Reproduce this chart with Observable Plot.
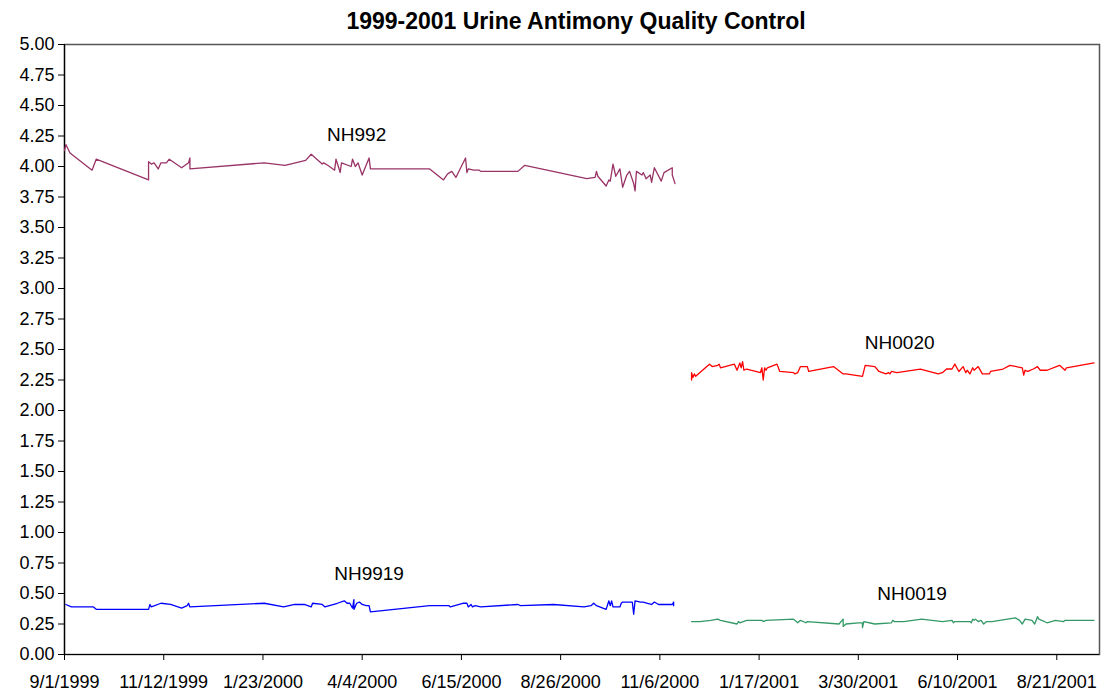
<!DOCTYPE html>
<html>
<head>
<meta charset="utf-8">
<script src="https://cdn.jsdelivr.net/npm/d3@7"></script>
<script src="https://cdn.jsdelivr.net/npm/@observablehq/plot@0.6"></script>
<style>
  html, body { margin: 0; padding: 0; background: #fff; }
  #chart { width: 1104px; height: 694px; }
</style>
</head>
<body>
<div id="chart"></div>
<script>
const TITLE = "1999-2001 Urine Antimony Quality Control";

// [date, value] pairs
const NH992 = [
  ["1999-09-01",4.13],["1999-09-02",4.18],["1999-09-05",4.11],["1999-09-21",3.97],["1999-09-24",4.06],
  ["1999-11-01",3.89],["1999-11-01",4.04],["1999-11-03",4.02],["1999-11-05",4.03],["1999-11-08",3.98],
  ["1999-11-10",4.03],["1999-11-14",4.03],["1999-11-16",4.06],["1999-11-25",3.99],["1999-11-30",4.03],
  ["1999-12-01",4.07],["1999-12-01",3.98],["2000-01-24",4.03],["2000-02-08",4.01],["2000-02-23",4.05],
  ["2000-02-27",4.10],["2000-03-06",4.02],["2000-03-07",4.03],["2000-03-10",4.01],["2000-03-15",3.97],
  ["2000-03-16",4.06],["2000-03-18",3.99],["2000-03-19",3.95],["2000-03-20",4.03],["2000-03-27",4.00],
  ["2000-03-28",4.06],["2000-03-30",4.00],["2000-04-01",4.03],["2000-04-04",3.93],["2000-04-09",4.07],
  ["2000-04-10",3.98],["2000-05-23",3.98],["2000-06-02",3.89],["2000-06-05",3.94],["2000-06-08",3.96],
  ["2000-06-11",3.91],["2000-06-18",4.07],["2000-06-19",3.95],["2000-06-20",3.98],["2000-06-24",3.97],
  ["2000-06-28",3.97],["2000-06-29",3.96],["2000-07-26",3.96],["2000-07-31",4.01],["2000-09-14",3.90],
  ["2000-09-20",3.91],["2000-09-21",3.96],["2000-09-22",3.92],["2000-09-28",3.84],["2000-09-30",3.89],
  ["2000-10-01",3.88],["2000-10-03",4.02],["2000-10-05",3.92],["2000-10-08",3.98],["2000-10-10",3.83],
  ["2000-10-13",3.93],["2000-10-15",3.96],["2000-10-18",3.86],["2000-10-19",3.80],["2000-10-20",3.96],
  ["2000-10-24",3.93],["2000-10-25",3.95],["2000-10-27",3.90],["2000-10-30",3.93],["2000-10-31",3.87],
  ["2000-11-02",3.99],["2000-11-07",3.88],["2000-11-09",3.95],["2000-11-15",3.99],["2000-11-15",3.93],
  ["2000-11-17",3.86]
];

const NH9919 = [
  ["1999-09-02",0.41],["1999-09-06",0.39],["1999-09-22",0.39],["1999-09-24",0.37],["1999-11-01",0.37],
  ["1999-11-02",0.41],["1999-11-03",0.39],["1999-11-10",0.42],["1999-11-17",0.41],["1999-11-25",0.38],
  ["1999-11-29",0.40],["1999-11-30",0.42],["1999-12-01",0.39],["2000-01-24",0.42],["2000-02-07",0.39],
  ["2000-02-15",0.41],["2000-02-22",0.41],["2000-02-27",0.39],["2000-02-28",0.42],["2000-03-06",0.41],
  ["2000-03-08",0.39],["2000-03-17",0.42],["2000-03-22",0.44],["2000-03-24",0.42],["2000-03-26",0.42],
  ["2000-03-28",0.38],["2000-03-29",0.45],["2000-03-29",0.37],["2000-03-31",0.42],["2000-04-02",0.43],
  ["2000-04-04",0.41],["2000-04-07",0.40],["2000-04-09",0.40],["2000-04-10",0.35],["2000-05-23",0.40],
  ["2000-06-06",0.40],["2000-06-07",0.39],["2000-06-16",0.42],["2000-06-19",0.42],["2000-06-20",0.39],
  ["2000-06-22",0.41],["2000-06-23",0.39],["2000-06-25",0.40],["2000-06-29",0.39],["2000-07-26",0.41],
  ["2000-07-28",0.40],["2000-08-21",0.41],["2000-09-12",0.39],["2000-09-17",0.40],["2000-09-19",0.42],
  ["2000-09-21",0.40],["2000-09-28",0.37],["2000-09-30",0.44],["2000-10-01",0.40],["2000-10-02",0.44],
  ["2000-10-03",0.39],["2000-10-08",0.39],["2000-10-09",0.42],["2000-10-10",0.43],["2000-10-17",0.43],
  ["2000-10-18",0.33],["2000-10-19",0.44],["2000-10-23",0.43],["2000-10-25",0.43],["2000-10-28",0.42],
  ["2000-10-31",0.41],["2000-11-02",0.43],["2000-11-05",0.41],["2000-11-08",0.41],["2000-11-15",0.41],
  ["2000-11-16",0.43],["2000-11-16",0.40]
];

const NH0020 = [
  ["2000-11-29",2.25],["2000-11-29",2.31],["2000-11-30",2.27],["2000-12-01",2.30],["2000-12-02",2.28],
  ["2000-12-08",2.34],["2000-12-12",2.38],["2000-12-14",2.36],["2000-12-18",2.37],["2000-12-19",2.38],
  ["2000-12-20",2.35],["2000-12-30",2.38],["2001-01-01",2.33],["2001-01-03",2.39],["2001-01-04",2.35],
  ["2001-01-05",2.40],["2001-01-06",2.33],["2001-01-08",2.34],["2001-01-11",2.33],["2001-01-18",2.31],
  ["2001-01-19",2.35],["2001-01-20",2.25],["2001-01-21",2.35],["2001-01-22",2.33],["2001-01-23",2.35],
  ["2001-01-30",2.38],["2001-02-01",2.32],["2001-02-11",2.31],["2001-02-12",2.30],["2001-02-14",2.31],
  ["2001-02-16",2.36],["2001-02-21",2.36],["2001-02-22",2.32],["2001-03-12",2.36],["2001-03-19",2.30],
  ["2001-03-21",2.30],["2001-04-02",2.28],["2001-04-04",2.37],["2001-04-11",2.36],["2001-04-14",2.32],
  ["2001-04-19",2.30],["2001-04-21",2.31],["2001-04-22",2.30],["2001-04-23",2.32],["2001-04-27",2.31],
  ["2001-05-14",2.34],["2001-05-27",2.30],["2001-05-30",2.31],["2001-06-02",2.34],["2001-06-06",2.34],
  ["2001-06-08",2.38],["2001-06-11",2.32],["2001-06-14",2.36],["2001-06-16",2.31],["2001-06-17",2.33],
  ["2001-06-19",2.30],["2001-06-21",2.35],["2001-06-22",2.33],["2001-06-23",2.34],["2001-06-25",2.36],
  ["2001-06-28",2.30],["2001-07-03",2.30],["2001-07-04",2.32],["2001-07-13",2.34],["2001-07-18",2.37],
  ["2001-07-27",2.35],["2001-07-28",2.29],["2001-07-29",2.33],["2001-07-31",2.32],["2001-08-04",2.34],
  ["2001-08-07",2.36],["2001-08-09",2.33],["2001-08-14",2.33],["2001-08-23",2.37],["2001-08-27",2.33],
  ["2001-08-28",2.35],["2001-09-17",2.39]
];

const NH0019 = [
  ["2000-11-29",0.27],["2000-12-05",0.27],["2000-12-13",0.28],["2000-12-18",0.29],["2000-12-20",0.28],
  ["2001-01-01",0.25],["2001-01-02",0.27],["2001-01-03",0.26],["2001-01-08",0.28],["2001-01-19",0.28],
  ["2001-01-20",0.27],["2001-01-22",0.28],["2001-02-11",0.29],["2001-02-14",0.26],["2001-02-16",0.28],
  ["2001-02-20",0.26],["2001-02-21",0.27],["2001-03-16",0.25],["2001-03-19",0.29],["2001-03-19",0.23],
  ["2001-03-21",0.25],["2001-03-30",0.26],["2001-04-02",0.26],["2001-04-02",0.22],["2001-04-03",0.27],
  ["2001-04-11",0.25],["2001-04-23",0.26],["2001-04-24",0.28],["2001-04-25",0.27],["2001-05-02",0.27],
  ["2001-05-15",0.29],["2001-05-30",0.27],["2001-06-06",0.28],["2001-06-07",0.26],["2001-06-08",0.27],
  ["2001-06-19",0.27],["2001-06-20",0.26],["2001-06-21",0.29],["2001-06-22",0.28],["2001-06-23",0.29],
  ["2001-06-25",0.27],["2001-06-27",0.28],["2001-06-29",0.25],["2001-07-01",0.27],["2001-07-05",0.27],
  ["2001-07-22",0.30],["2001-07-25",0.28],["2001-07-27",0.25],["2001-07-28",0.27],["2001-07-29",0.29],
  ["2001-08-03",0.28],["2001-08-05",0.25],["2001-08-07",0.31],["2001-08-08",0.29],["2001-08-14",0.26],
  ["2001-08-20",0.28],["2001-08-26",0.27],["2001-08-27",0.28],["2001-09-17",0.28]
];

const seriesNames = ["NH992", "NH9919", "NH0020", "NH0019"];
const seriesColors = ["#993366", "#0000FF", "#FF0000", "#339966"];
const seriesData = [NH992, NH9919, NH0020, NH0019];

// series label annotations: [name, date, value]
const labels = [
  ["NH992", "2000-03-31", 4.26],
  ["NH9919", "2000-04-09", 0.66],
  ["NH0020", "2001-04-29", 2.55],
  ["NH0019", "2001-05-08", 0.50]
];

const xTickLabels = ["9/1/1999","11/12/1999","1/23/2000","4/4/2000","6/15/2000","8/26/2000",
  "11/6/2000","1/17/2001","3/30/2001","6/10/2001","8/21/2001"];
const yTicks = [0,0.25,0.5,0.75,1,1.25,1.5,1.75,2,2.25,2.5,2.75,3,3.25,3.5,3.75,4,4.25,4.5,4.75,5];
const xDomain = ["1999-09-01", "2001-09-21"];

const parseMDY = s => { const [m, d, y] = s.split("/").map(Number); return new Date(Date.UTC(y, m - 1, d)); };
const fmtMDY = d => `${d.getUTCMonth() + 1}/${d.getUTCDate()}/${d.getUTCFullYear()}`;
const xTicks = xTickLabels.map(parseMDY);

const rows = [];
seriesData.forEach((arr, i) => arr.forEach(([d, v], k) => rows.push({series: seriesNames[i], date: new Date(d), value: v, k})));
const labelRows = labels.map(([name, d, v]) => ({name, date: new Date(d), value: v}));

const FONT = "'Liberation Sans', Arial, Helvetica, sans-serif";

const chart = Plot.plot({
  width: 1104,
  height: 694,
  marginLeft: 64,
  marginRight: 5,
  marginTop: 44,
  marginBottom: 40,
  style: {fontFamily: FONT, fontSize: "18px", color: "#000", background: "#fff"},
  x: {type: "utc", domain: xDomain.map(d => new Date(d))},
  y: {domain: [0, 5]},
  color: {domain: seriesNames, range: seriesColors},
  marks: [
    Plot.frame({stroke: "#555", strokeWidth: 1.5}),
    Plot.axisY({ticks: yTicks, tickFormat: d => d.toFixed(2), tickSize: 6, tickPadding: 4, fontSize: 18, label: null, stroke: "#000"}),
    Plot.axisX({ticks: xTicks, tickFormat: fmtMDY, tickSize: 6, tickPadding: 15, fontSize: 18, label: null, stroke: "#000"}),
    Plot.ruleX([0], {x: () => new Date(xDomain[0]), stroke: "#000", strokeWidth: 1.2}),
    Plot.ruleY([0], {stroke: "#000", strokeWidth: 1.2}),
    Plot.line(rows, {x: "date", y: "value", z: "series", stroke: "series", strokeWidth: 1.3, curve: "linear"}),
    Plot.text(labelRows, {x: "date", y: "value", text: "name", fontSize: 19, fill: "#000"}),
    Plot.text([TITLE], {frameAnchor: "top", dy: -32, fontSize: 23, fontWeight: "bold", fill: "#000", dx: -6})
  ]
});
document.getElementById("chart").appendChild(chart);
</script>
</body>
</html>
